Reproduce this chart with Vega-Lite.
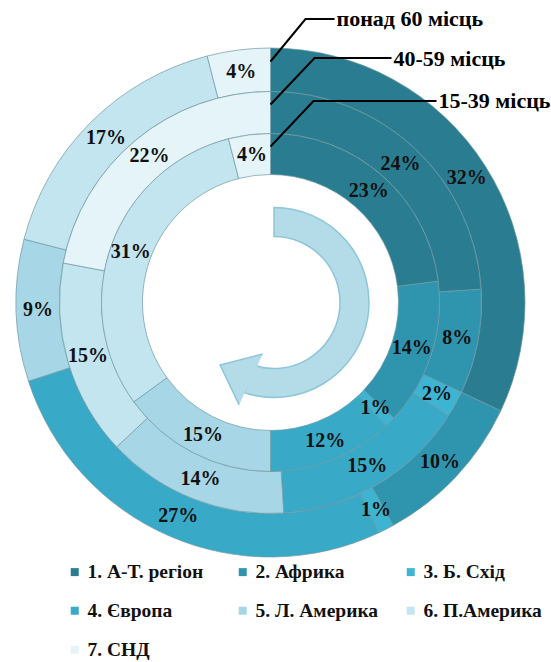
{
  "$schema": "https://vega.github.io/schema/vega-lite/v6.json",
  "width": 551,
  "height": 662,
  "autosize": "none",
  "padding": 0,
  "background": "white",
  "config": {"view": {"stroke": null}},
  "datasets": {
    "rings": [
      {"ring": "15-39 місць", "region": "1. А-Т. регіон", "ord": 1, "value": 23},
      {"ring": "15-39 місць", "region": "2. Африка", "ord": 2, "value": 14},
      {"ring": "15-39 місць", "region": "3. Б. Схід", "ord": 3, "value": 1},
      {"ring": "15-39 місць", "region": "4. Європа", "ord": 4, "value": 12},
      {"ring": "15-39 місць", "region": "5. Л. Америка", "ord": 5, "value": 15},
      {"ring": "15-39 місць", "region": "6. П.Америка", "ord": 6, "value": 31},
      {"ring": "15-39 місць", "region": "7. СНД", "ord": 7, "value": 4},
      {"ring": "40-59 місць", "region": "1. А-Т. регіон", "ord": 1, "value": 24},
      {"ring": "40-59 місць", "region": "2. Африка", "ord": 2, "value": 8},
      {"ring": "40-59 місць", "region": "3. Б. Схід", "ord": 3, "value": 2},
      {"ring": "40-59 місць", "region": "4. Європа", "ord": 4, "value": 15},
      {"ring": "40-59 місць", "region": "5. Л. Америка", "ord": 5, "value": 14},
      {"ring": "40-59 місць", "region": "6. П.Америка", "ord": 6, "value": 15},
      {"ring": "40-59 місць", "region": "7. СНД", "ord": 7, "value": 22},
      {"ring": "понад 60 місць", "region": "1. А-Т. регіон", "ord": 1, "value": 32},
      {"ring": "понад 60 місць", "region": "2. Африка", "ord": 2, "value": 10},
      {"ring": "понад 60 місць", "region": "3. Б. Схід", "ord": 3, "value": 1},
      {"ring": "понад 60 місць", "region": "4. Європа", "ord": 4, "value": 27},
      {"ring": "понад 60 місць", "region": "5. Л. Америка", "ord": 5, "value": 9},
      {"ring": "понад 60 місць", "region": "6. П.Америка", "ord": 6, "value": 17},
      {"ring": "понад 60 місць", "region": "7. СНД", "ord": 7, "value": 4}
    ],
    "leaders": [
      {"label": "понад 60 місць", "i": 0, "x": 0, "y": 241},
      {"label": "понад 60 місць", "i": 1, "x": 35, "y": 283.5},
      {"label": "понад 60 місць", "i": 2, "x": 64, "y": 283.5},
      {"label": "40-59 місць", "i": 0, "x": 0, "y": 198},
      {"label": "40-59 місць", "i": 1, "x": 44, "y": 244.5},
      {"label": "40-59 місць", "i": 2, "x": 121, "y": 244.5},
      {"label": "15-39 місць", "i": 0, "x": 0, "y": 156},
      {"label": "15-39 місць", "i": 1, "x": 43, "y": 201.5},
      {"label": "15-39 місць", "i": 2, "x": 166, "y": 201.5}
    ],
    "ringnames": [
      {"label": "понад 60 місць", "x": 66, "y": 284},
      {"label": "40-59 місць", "x": 123, "y": 244},
      {"label": "15-39 місць", "x": 168, "y": 202}
    ],
    "arrow": [{"start": 0, "end": 55}],
    "arrowhead": [{"x": -21.4, "y": -76.1}]
  },
  "layer": [
    {
      "data": {"name": "rings"},
      "transform": [{"filter": "datum.ring === 'понад 60 місць'"}],
      "mark": {"type": "arc", "radius": 254.5, "radius2": 211, "stroke": "#6f98a3", "strokeWidth": 1, "strokeOpacity": 0.7},
      "encoding": {
        "x": {"datum": 0, "type": "quantitative", "scale": {"domain": [-270.5, 280.5], "nice": false, "zero": false}, "axis": null},
        "y": {"datum": 0, "type": "quantitative", "scale": {"domain": [-359.5, 302.5], "nice": false, "zero": false}, "axis": null},
        "theta": {"field": "value", "type": "quantitative", "stack": true, "scale": {"domain": [0, 100]}},
        "order": {"field": "ord"},
        "color": {
          "field": "region", "type": "nominal",
          "scale": {
            "domain": ["1. А-Т. регіон", "2. Африка", "3. Б. Схід", "4. Європа", "5. Л. Америка", "6. П.Америка", "7. СНД"],
            "range": ["#2a7d91", "#2f95af", "#3cb4d2", "#38a9c7", "#a7d7e6", "#c3e5f0", "#e4f4f9"]
          },
          "legend": {
            "orient": "none", "legendX": 65, "legendY": 562, "direction": "horizontal", "columns": 3, "gridAlign": "all",
            "title": null, "symbolType": "square", "symbolSize": 64, "symbolStrokeWidth": 0,
            "labelFont": "Liberation Serif, Times New Roman, DejaVu Serif, serif", "labelFontSize": 19.5, "labelFontWeight": "bold", "labelColor": "#111111",
            "labelOffset": 3, "rowPadding": 18, "columnPadding": 22, "padding": 0, "labelLimit": 300
          }
        }
      }
    },
    {
      "data": {"name": "rings"},
      "transform": [{"filter": "datum.ring === '40-59 місць'"}],
      "mark": {"type": "arc", "radius": 211, "radius2": 169, "stroke": "#6f98a3", "strokeWidth": 1, "strokeOpacity": 0.7},
      "encoding": {
        "x": {"datum": 0, "type": "quantitative"},
        "y": {"datum": 0, "type": "quantitative"},
        "theta": {"field": "value", "type": "quantitative", "stack": true},
        "order": {"field": "ord"},
        "color": {"field": "region", "type": "nominal"}
      }
    },
    {
      "data": {"name": "rings"},
      "transform": [{"filter": "datum.ring === '15-39 місць'"}],
      "mark": {"type": "arc", "radius": 169, "radius2": 128, "stroke": "#6f98a3", "strokeWidth": 1, "strokeOpacity": 0.7},
      "encoding": {
        "x": {"datum": 0, "type": "quantitative"},
        "y": {"datum": 0, "type": "quantitative"},
        "theta": {"field": "value", "type": "quantitative", "stack": true},
        "order": {"field": "ord"},
        "color": {"field": "region", "type": "nominal"}
      }
    },
    {
      "data": {"name": "rings"},
      "transform": [{"filter": "datum.ring === 'понад 60 місць'"}, {"calculate": "datum.value + '%'", "as": "pct"}],
      "mark": {"type": "text", "radius": 232.5, "font": "Liberation Serif, Times New Roman, DejaVu Serif, serif", "fontSize": 20, "fontWeight": "bold", "color": "#111111", "align": "center", "baseline": "middle"},
      "encoding": {
        "x": {"datum": 0, "type": "quantitative"},
        "y": {"datum": 0, "type": "quantitative"},
        "theta": {"field": "value", "type": "quantitative", "stack": true},
        "order": {"field": "ord"},
        "text": {"field": "pct", "type": "nominal"},
        "detail": {"field": "region"}
      }
    },
    {
      "data": {"name": "rings"},
      "transform": [{"filter": "datum.ring === '40-59 місць'"}, {"calculate": "datum.value + '%'", "as": "pct"}],
      "mark": {"type": "text", "radius": 190, "font": "Liberation Serif, Times New Roman, DejaVu Serif, serif", "fontSize": 20, "fontWeight": "bold", "color": "#111111", "align": "center", "baseline": "middle"},
      "encoding": {
        "x": {"datum": 0, "type": "quantitative"},
        "y": {"datum": 0, "type": "quantitative"},
        "theta": {"field": "value", "type": "quantitative", "stack": true},
        "order": {"field": "ord"},
        "text": {"field": "pct", "type": "nominal"},
        "detail": {"field": "region"}
      }
    },
    {
      "data": {"name": "rings"},
      "transform": [{"filter": "datum.ring === '15-39 місць'"}, {"calculate": "datum.value + '%'", "as": "pct"}],
      "mark": {"type": "text", "radius": 148.5, "font": "Liberation Serif, Times New Roman, DejaVu Serif, serif", "fontSize": 20, "fontWeight": "bold", "color": "#111111", "align": "center", "baseline": "middle"},
      "encoding": {
        "x": {"datum": 0, "type": "quantitative"},
        "y": {"datum": 0, "type": "quantitative"},
        "theta": {"field": "value", "type": "quantitative", "stack": true},
        "order": {"field": "ord"},
        "text": {"field": "pct", "type": "nominal"},
        "detail": {"field": "region"}
      }
    },
    {
      "data": {"name": "arrow"},
      "mark": {"type": "arc", "radius": 95, "radius2": 66, "fill": "#b4dbe8", "stroke": "#8cc6d9", "strokeWidth": 1.5},
      "encoding": {
        "x": {"datum": 3.5, "type": "quantitative"},
        "y": {"datum": 0, "type": "quantitative"},
        "theta": {"field": "start", "type": "quantitative"},
        "theta2": {"field": "end"}
      }
    },
    {
      "data": {"name": "arrowhead"},
      "mark": {"type": "point", "shape": "M 0.389 -0.702 L -0.829 -0.389 L -0.285 0.75", "size": 4900, "filled": true, "fill": "#b4dbe8", "stroke": "#8cc6d9", "strokeWidth": 1.5, "opacity": 1},
      "encoding": {
        "x": {"field": "x", "type": "quantitative"},
        "y": {"field": "y", "type": "quantitative"}
      }
    },
    {
      "data": {"name": "leaders"},
      "mark": {"type": "line", "color": "#000000", "strokeWidth": 2},
      "encoding": {
        "x": {"field": "x", "type": "quantitative"},
        "y": {"field": "y", "type": "quantitative"},
        "detail": {"field": "label"},
        "order": {"field": "i"}
      }
    },
    {
      "data": {"name": "ringnames"},
      "mark": {"type": "text", "font": "Liberation Serif, Times New Roman, DejaVu Serif, serif", "fontSize": 22, "fontWeight": "bold", "color": "#000000", "align": "left", "baseline": "middle"},
      "encoding": {
        "x": {"field": "x", "type": "quantitative"},
        "y": {"field": "y", "type": "quantitative"},
        "text": {"field": "label"}
      }
    }
  ]
}
